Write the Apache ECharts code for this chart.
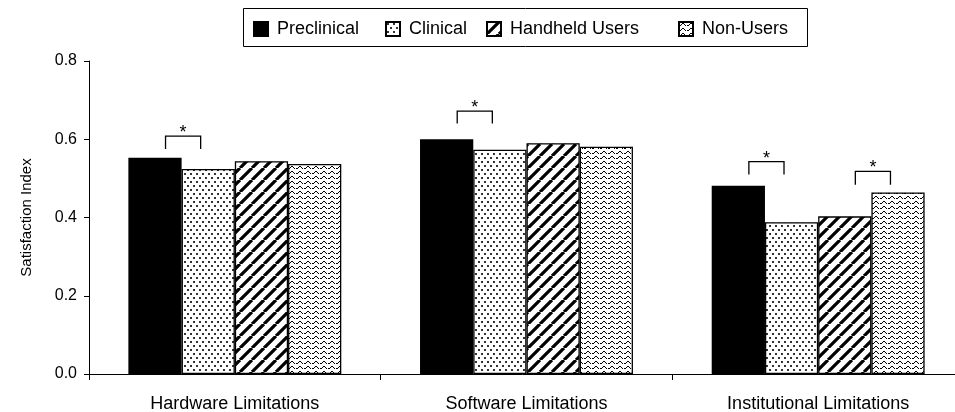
<!DOCTYPE html>
<html>
<head>
<meta charset="utf-8">
<script src="https://cdn.jsdelivr.net/npm/echarts@6/dist/echarts.min.js"></script>
<style>
html,body{margin:0;padding:0;background:#fff;}
#chart{width:955px;height:412px;}
</style>
</head>
<body>
<div id="chart"></div>
<script>
// ---- data ----
const categories = ['Hardware Limitations', 'Software Limitations', 'Institutional Limitations'];
const seriesNames = ['Preclinical', 'Clinical', 'Handheld Users', 'Non-Users'];
const preclinical = [0.553, 0.600, 0.481];
const clinical    = [0.524, 0.573, 0.388];
const handheld    = [0.544, 0.590, 0.403];
const nonUsers    = [0.537, 0.581, 0.464];
const yMin = 0, yMax = 0.8, yStep = 0.2;
// significance brackets: [category index, left bar index, leg bottom value, bracket top value]
const brackets = [
  [0, 0, 0.575, 0.608],
  [1, 0, 0.640, 0.672],
  [2, 0, 0.510, 0.543],
  [2, 2, 0.484, 0.518]
];

// ---- fill patterns ----
function makeTile(w, h, draw) {
  const c = document.createElement('canvas');
  c.width = w; c.height = h;
  const ctx = c.getContext('2d');
  ctx.fillStyle = '#fff';
  ctx.fillRect(0, 0, w, h);
  draw(ctx);
  return c;
}
const dotsTile = makeTile(6, 8, ctx => {
  ctx.fillStyle = '#333';
  ctx.fillRect(1, 1, 2, 2);
  ctx.fillRect(4, 5, 2, 2);
});
const stripeTile = makeTile(12, 12, ctx => {
  ctx.strokeStyle = '#000';
  ctx.lineWidth = 3.2;
  ctx.beginPath();
  for (const k of [-12, 0, 12]) { ctx.moveTo(k, 12); ctx.lineTo(k + 12, 0); }
  ctx.stroke();
});
const waveTile = makeTile(8, 5, ctx => {
  ctx.fillStyle = '#000';
  ctx.fillRect(3, 1, 2, 1);
  ctx.fillRect(2, 2, 1, 1);
  ctx.fillRect(5, 2, 1, 1);
  ctx.fillRect(0, 3, 2, 1);
  ctx.fillRect(6, 3, 1, 1);
});
const fills = [
  '#000',
  { image: dotsTile, repeat: 'repeat' },
  { image: stripeTile, repeat: 'repeat' },
  { image: waveTile, repeat: 'repeat' }
];
const values = [preclinical, clinical, handheld, nonUsers];

const FONT = '"Liberation Sans", Arial, Helvetica, sans-serif';
const GAP = 0.27;

const chart = echarts.init(document.getElementById('chart'), null, { renderer: 'canvas' });

const barSeries = seriesNames.map((name, i) => ({
  name: name,
  type: 'bar',
  data: values[i],
  barGap: '0%',
  barCategoryGap: (GAP * 100) + '%',
  itemStyle: { color: fills[i], borderColor: '#000', borderWidth: 1.3 },
  emphasis: { disabled: true },
  animation: false
}));

const bracketSeries = {
  type: 'custom',
  name: 'sig',
  data: brackets,
  silent: true,
  animation: false,
  z: 10,
  renderItem: function (params, api) {
    const cat = api.value(0);
    const left = api.value(1);
    const bottom = api.coord([cat, api.value(2)]);
    const top = api.coord([cat, api.value(3)]);
    const catW = api.size([1, 0])[0];
    const bw = catW * (1 - GAP) / 4;
    const groupLeft = top[0] - 2 * bw;
    const mid = groupLeft + (left + 1) * bw + 1.5;
    const half = bw * 0.33;
    return {
      type: 'group',
      children: [
        {
          type: 'polyline',
          shape: { points: [[mid - half, bottom[1]], [mid - half, top[1]], [mid + half, top[1]], [mid + half, bottom[1]]] },
          style: { stroke: '#000', lineWidth: 1.3, fill: null }
        },
        {
          type: 'text',
          x: mid, y: top[1] - 3,
          style: { text: '*', fontSize: 18, fontFamily: FONT, fill: '#000', align: 'center', verticalAlign: 'middle' }
        }
      ]
    };
  }
};

const legendLefts = [253, 385, 486, 678];
const legends = seriesNames.map((name, i) => ({
  data: [name],
  left: legendLefts[i],
  top: 20,
  padding: 0,
  itemWidth: 14,
  itemHeight: 14,
  icon: 'rect',
  selectedMode: false,
  textStyle: { fontSize: 18, fontFamily: FONT, color: '#000', padding: [0, 0, 0, 4] }
}));

chart.setOption({
  backgroundColor: '#fff',
  animation: false,
  legend: legends,
  graphic: [{
    type: 'rect',
    shape: { x: 243.5, y: 8.5, width: 564, height: 38 },
    style: { fill: null, stroke: '#000', lineWidth: 1 },
    silent: true
  }],
  grid: { left: 89, width: 875, top: 61, bottom: 38, containLabel: false, outerBoundsMode: 'none' },
  xAxis: {
    type: 'category',
    data: categories,
    axisLine: { lineStyle: { color: '#000', width: 1 } },
    axisTick: { show: true, length: 6, lineStyle: { color: '#000' } },
    axisLabel: { fontSize: 18, fontFamily: FONT, color: '#000', margin: 21 },
    splitLine: { show: false }
  },
  yAxis: {
    type: 'value',
    min: yMin, max: yMax, interval: yStep,
    name: 'Satisfaction Index',
    nameLocation: 'middle',
    nameGap: 55,
    nameRotate: 90,
    nameTextStyle: { fontSize: 15, fontFamily: FONT, color: '#000' },
    axisLine: { show: true, lineStyle: { color: '#000', width: 1 } },
    axisTick: { show: true, length: 5, lineStyle: { color: '#000' } },
    axisLabel: { fontSize: 16, fontFamily: FONT, color: '#000', margin: 12, formatter: v => v.toFixed(1) },
    splitLine: { show: false }
  },
  series: barSeries.concat([bracketSeries])
});
</script>
</body>
</html>
